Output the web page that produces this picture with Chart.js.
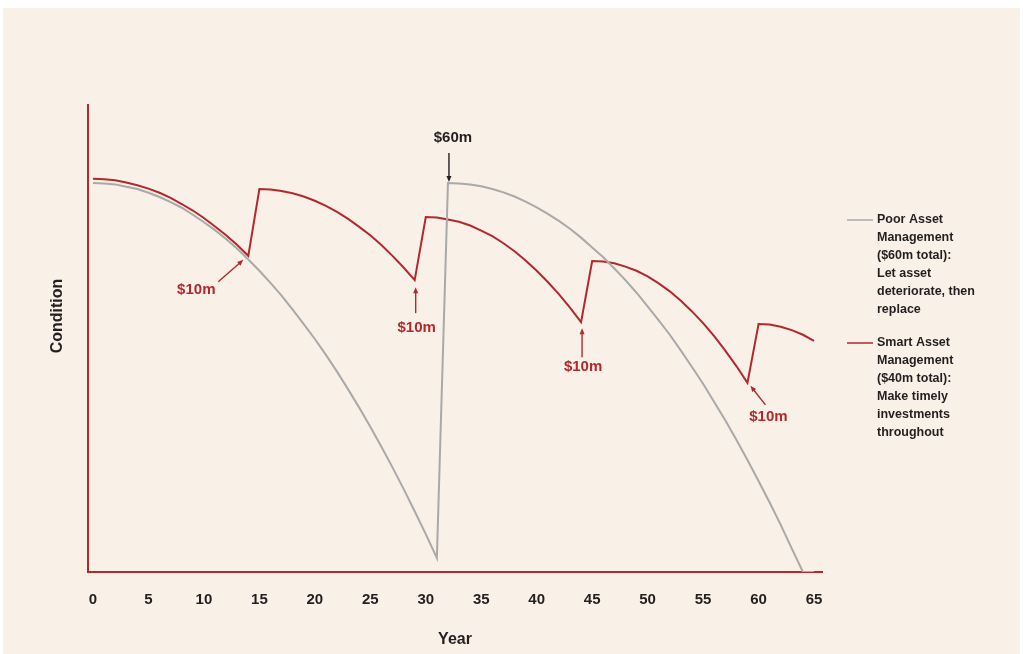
<!DOCTYPE html>
<html>
<head>
<meta charset="utf-8">
<script src="https://cdn.jsdelivr.net/npm/chart.js@4.4.1/dist/chart.umd.min.js"></script>
<style>
  html, body { margin: 0; padding: 0; background: #ffffff; }
  #wrap { width: 1023px; height: 654px; position: relative; }
</style>
</head>
<body>
<div id="wrap"><canvas id="chart" width="1023" height="654"></canvas></div>
<script>
// Years along the horizontal axis (one point per year)
const years = [];
for (let y = 0; y <= 65; y++) years.push(y);

// Tick labels on the year axis
const tickYears = [0, 5, 10, 15, 20, 25, 30, 35, 40, 45, 50, 55, 60, 65];

// Poor asset management: deteriorate, replace in year 32, deteriorate again
const poorCondition = [
  83.3, 83.2, 83.0, 82.5, 82.0, 81.2, 80.3, 79.2, 78.0, 76.5,
  74.9, 73.2, 71.3, 69.2, 66.9, 64.5, 61.9, 59.2, 56.2, 53.1,
  49.9, 46.5, 42.9, 39.1, 35.2, 31.1, 26.8, 22.4, 17.8, 13.0,
  8.1, 3.0, 83.3, 83.2, 83.0, 82.6, 82.0, 81.3, 80.4, 79.3,
  78.1, 76.7, 75.2, 73.5, 71.6, 69.5, 67.4, 65.0, 62.5, 59.8,
  56.9, 53.9, 50.8, 47.4, 43.9, 40.3, 36.4, 32.5, 28.3, 24.0,
  19.5, 14.9, 10.1, 5.0, 0.0, 0.0
];

// Smart asset management: $10m reinvestment every 15 years
const smartCondition = [
  84.2, 84.1, 83.9, 83.4, 82.8, 82.1, 81.2, 80.1, 78.8, 77.4,
  75.8, 74.0, 72.1, 70.0, 67.7, 82.0, 81.9, 81.6, 81.1, 80.4,
  79.5, 78.4, 77.1, 75.6, 73.9, 72.1, 70.0, 67.7, 65.2, 62.5,
  76.0, 75.9, 75.5, 75.0, 74.2, 73.1, 71.9, 70.4, 68.7, 66.7,
  64.5, 62.1, 59.5, 56.6, 53.5, 66.6, 66.5, 66.1, 65.4, 64.5,
  63.3, 61.8, 60.1, 58.1, 55.8, 53.3, 50.5, 47.4, 44.1, 40.5,
  53.1, 53.0, 52.5, 51.8, 50.8, 49.5
];

const poorLabel = ['Poor Asset', 'Management', '($60m total):', 'Let asset', 'deteriorate, then', 'replace'];
const smartLabel = ['Smart Asset', 'Management', '($40m total):', 'Make timely', 'investments', 'throughout'];

// Investment call-outs: which series/year they point at, and their text
const investYears = [14, 29, 32, 44, 59];
const investSeries = [1, 1, 0, 1, 1];
const investText = ['$10m', '$10m', '$60m', '$10m', '$10m'];

const RED = '#b3282d';
const GREY = '#a9a9a9';
const INK = '#231f20';
const FONT = '"Liberation Sans", Arial, sans-serif';

// Arrow geometry per call-out: tip/tail offsets from the data point and label offset
const calloutStyle = [
  { tip: [-5, 4], tail: [-30, 26], text: [-52, 34], color: RED },
  { tip: [1, 7], tail: [1, 33], text: [2, 48], color: RED },
  { tip: [1, -1], tail: [1, -30], text: [5, -45], color: INK },
  { tip: [1, 6], tail: [1, 35], text: [2, 45], color: RED },
  { tip: [3, 3], tail: [18, 22], text: [21, 34], color: RED }
];

const toPoints = arr => years.map((y, i) => ({ x: y, y: arr[i] }));

const backdrop = {
  id: 'backdrop',
  beforeDraw(chart) {
    const c = chart.ctx;
    c.save();
    c.fillStyle = '#ffffff';
    c.fillRect(0, 0, chart.width, chart.height);
    c.fillStyle = '#f9f0e7';
    c.fillRect(3, 8, 1017, 646);
    c.restore();
  }
};

function arrow(c, x1, y1, x2, y2, color) {
  const ang = Math.atan2(y2 - y1, x2 - x1);
  c.strokeStyle = color;
  c.fillStyle = color;
  c.lineWidth = 1.4;
  c.beginPath();
  c.moveTo(x1, y1);
  c.lineTo(x2 - 4 * Math.cos(ang), y2 - 4 * Math.sin(ang));
  c.stroke();
  c.beginPath();
  c.moveTo(x2, y2);
  c.lineTo(x2 - 6 * Math.cos(ang) + 2.5 * Math.sin(ang), y2 - 6 * Math.sin(ang) - 2.5 * Math.cos(ang));
  c.lineTo(x2 - 6 * Math.cos(ang) - 2.5 * Math.sin(ang), y2 - 6 * Math.sin(ang) + 2.5 * Math.cos(ang));
  c.closePath();
  c.fill();
}

const decorations = {
  id: 'decorations',
  afterDraw(chart) {
    const c = chart.ctx;
    const xs = chart.scales.x, ys = chart.scales.y;
    const area = chart.chartArea;
    c.save();

    // Call-outs
    c.font = 'bold 15px ' + FONT;
    c.textAlign = 'center';
    c.textBaseline = 'middle';
    investYears.forEach((yr, i) => {
      const series = investSeries[i] === 0 ? poorCondition : smartCondition;
      const px = xs.getPixelForValue(yr);
      const py = ys.getPixelForValue(series[yr]);
      const s = calloutStyle[i];
      arrow(c, px + s.tail[0], py + s.tail[1], px + s.tip[0], py + s.tip[1], s.color);
      c.fillStyle = s.color;
      c.fillText(investText[i], px + s.text[0], py + s.text[1]);
    });

    // Axis titles
    c.fillStyle = INK;
    c.font = 'bold 16px ' + FONT;
    c.fillText('Year', (area.left + area.right) / 2, 640);
    c.save();
    c.translate(58, 316);
    c.rotate(-Math.PI / 2);
    c.fillText('Condition', 0, 0);
    c.restore();

    // Legend
    c.font = 'bold 12.5px ' + FONT;
    c.textAlign = 'left';
    const blocks = [{ ds: 0, top: 220 }, { ds: 1, top: 343 }];
    blocks.forEach(b => {
      const ds = chart.data.datasets[b.ds];
      c.strokeStyle = ds.borderColor;
      c.lineWidth = 1.5;
      c.beginPath();
      c.moveTo(847, b.top);
      c.lineTo(873, b.top);
      c.stroke();
      c.fillStyle = INK;
      ds.label.forEach((line, k) => c.fillText(line, 877, b.top + k * 18));
    });
    c.restore();
  }
};

new Chart(document.getElementById('chart'), {
  type: 'line',
  data: {
    datasets: [
      { label: poorLabel, data: toPoints(poorCondition), borderColor: GREY, borderWidth: 2, pointRadius: 0, tension: 0 },
      { label: smartLabel, data: toPoints(smartCondition), borderColor: RED, borderWidth: 2, pointRadius: 0, tension: 0 }
    ]
  },
  options: {
    responsive: false,
    animation: false,
    events: [],
    layout: { padding: { left: 88, right: 201, top: 105, bottom: 0 } },
    plugins: { legend: { display: false }, tooltip: { enabled: false } },
    scales: {
      x: {
        type: 'linear',
        min: -0.45,
        max: 65.72,
        afterFit: s => { s.height = 82; },
        afterBuildTicks: s => { s.ticks = tickYears.map(v => ({ value: v })); },
        grid: { display: false, drawTicks: false },
        border: { display: true, color: RED, width: 2 },
        ticks: { color: INK, padding: 19, font: { family: FONT, size: 15, weight: 'bold' }, maxRotation: 0, autoSkip: false }
      },
      y: {
        min: 0,
        max: 100,
        afterFit: s => { s.width = 0; },
        grid: { display: false, drawTicks: false },
        border: { display: true, color: RED, width: 2 },
        ticks: { display: false }
      }
    }
  },
  plugins: [backdrop, decorations]
});
</script>
</body>
</html>
